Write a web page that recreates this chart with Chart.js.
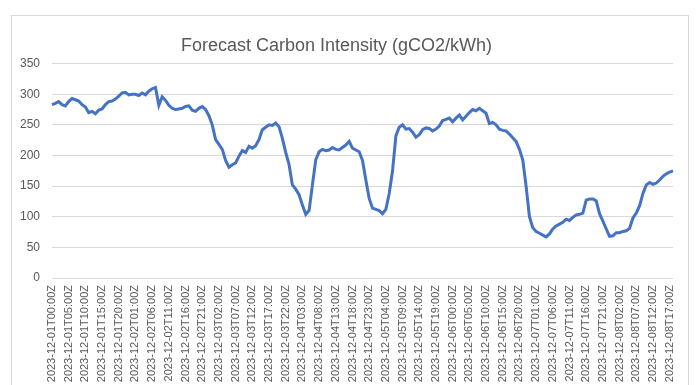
<!DOCTYPE html>
<html>
<head>
<meta charset="utf-8">
<title>Forecast Carbon Intensity</title>
<script src="https://cdn.jsdelivr.net/npm/chart.js@4.4.1/dist/chart.umd.min.js"></script>
<style>
  body { margin: 0; background: #fff; }
</style>
</head>
<body>
<canvas id="myChart1" width="696" height="385"></canvas>
<script>
// hourly forecast, 2023-12-01T00:00Z .. 2023-12-08T18:00Z
var startTime = '2023-12-01T00:00:00Z';
var hours = 187;

// gCO2/kWh, one value per hour
var intensity = [
  283, 285, 288, 283, 281, 288, 293, 291, 289, 283,
  279, 270, 272, 268, 274, 276, 283, 288, 289, 292,
  297, 302, 303, 299, 300, 300, 298, 302, 299, 305,
  309, 311, 282, 296, 290, 282, 277, 275, 276, 277,
  280, 281, 274, 272, 277, 280, 275, 265, 250, 226,
  218, 210, 192, 181, 185, 188, 199, 208, 205, 215,
  212, 216, 226, 242, 246, 250, 249, 253, 247, 228,
  205, 185, 152, 145, 136, 119, 104, 110, 152, 193,
  206, 210, 208, 209, 213, 210, 209, 213, 217, 223,
  212, 209, 206, 192, 160, 130, 114, 112, 110, 105,
  112, 138, 175, 232, 246, 250, 243, 244, 238, 230,
  234, 242, 245, 244, 240, 243, 248, 257, 259, 261,
  255, 261, 266, 258, 264, 270, 275, 273, 277, 273,
  269, 252, 254, 250, 243, 241, 240, 235, 229, 223,
  210, 193, 150, 100, 82, 76, 73, 70, 67, 72,
  80, 85, 88, 91, 96, 94, 99, 103, 104, 106,
  127, 129, 129, 126, 105, 93, 80, 68, 69, 74,
  74, 76, 77, 81, 98, 106, 118, 138, 152, 156,
  153, 155, 160, 166, 170, 173, 175
];

var yTicks = [0, 50, 100, 150, 200, 250, 300, 350];
var labelEvery = 5;   // a label every 5 hours

// build the category labels like "2023-12-01T00:00Z"
var labels = [];
var t0 = new Date(startTime).getTime();
for (var i = 0; i < hours; i++) {
  var d = new Date(t0 + i * 3600000);
  labels.push(d.toISOString().slice(0, 16) + 'Z');
}

// light frame round the whole chart, like the spreadsheet chart border
var framePlugin = {
  id: 'frame',
  beforeDraw: function(chart) {
    var ctx = chart.ctx;
    ctx.save();
    ctx.fillStyle = '#ffffff';
    ctx.fillRect(0, 0, chart.width, chart.height);
    ctx.strokeStyle = '#d9d9d9';
    ctx.lineWidth = 1;
    ctx.strokeRect(11.5, 15.5, 677, 420);
    ctx.restore();
  }
};

var ctx = document.getElementById('myChart1').getContext('2d');
var chart = new Chart(ctx, {
  type: 'line',
  data: {
    labels: labels,
    datasets: [{
      label: 'Forecast Carbon Intensity',
      data: intensity,
      borderColor: '#4472C4',
      backgroundColor: '#4472C4',
      borderWidth: 3,
      pointRadius: 0,
      tension: 0,
      fill: false
    }]
  },
  options: {
    responsive: false,
    animation: false,
    layout: { padding: { left: 0, right: 23, top: 0, bottom: 0 } },
    plugins: {
      legend: { display: false },
      tooltip: { enabled: false },
      title: {
        display: true,
        text: 'Forecast Carbon Intensity (gCO2/kWh)',
        color: '#595959',
        font: { family: 'Liberation Sans', size: 18, weight: 'normal', lineHeight: 1.2 },
        padding: { top: 35, bottom: 7 }
      }
    },
    scales: {
      x: {
        grid: { display: false, drawTicks: false },
        border: { display: false },
        ticks: {
          autoSkip: false,
          minRotation: 90,
          maxRotation: 90,
          padding: 7,
          color: '#595959',
          font: { family: 'Liberation Sans', size: 11 },
          callback: function(value, index) {
            return index % labelEvery === 0 ? labels[index] : '';
          }
        },
        afterFit: function(scale) { scale.height = 107; }
      },
      y: {
        min: 0,
        max: 350,
        afterBuildTicks: function(scale) {
          scale.ticks = yTicks.map(function(v) { return { value: v }; });
        },
        grid: { color: '#d9d9d9', lineWidth: 1, drawTicks: false },
        border: { display: false },
        ticks: {
          padding: 12,
          color: '#595959',
          font: { family: 'Liberation Sans', size: 12 }
        },
        afterFit: function(scale) { scale.width = 52; }
      }
    }
  },
  plugins: [framePlugin]
});
</script>
</body>
</html>
